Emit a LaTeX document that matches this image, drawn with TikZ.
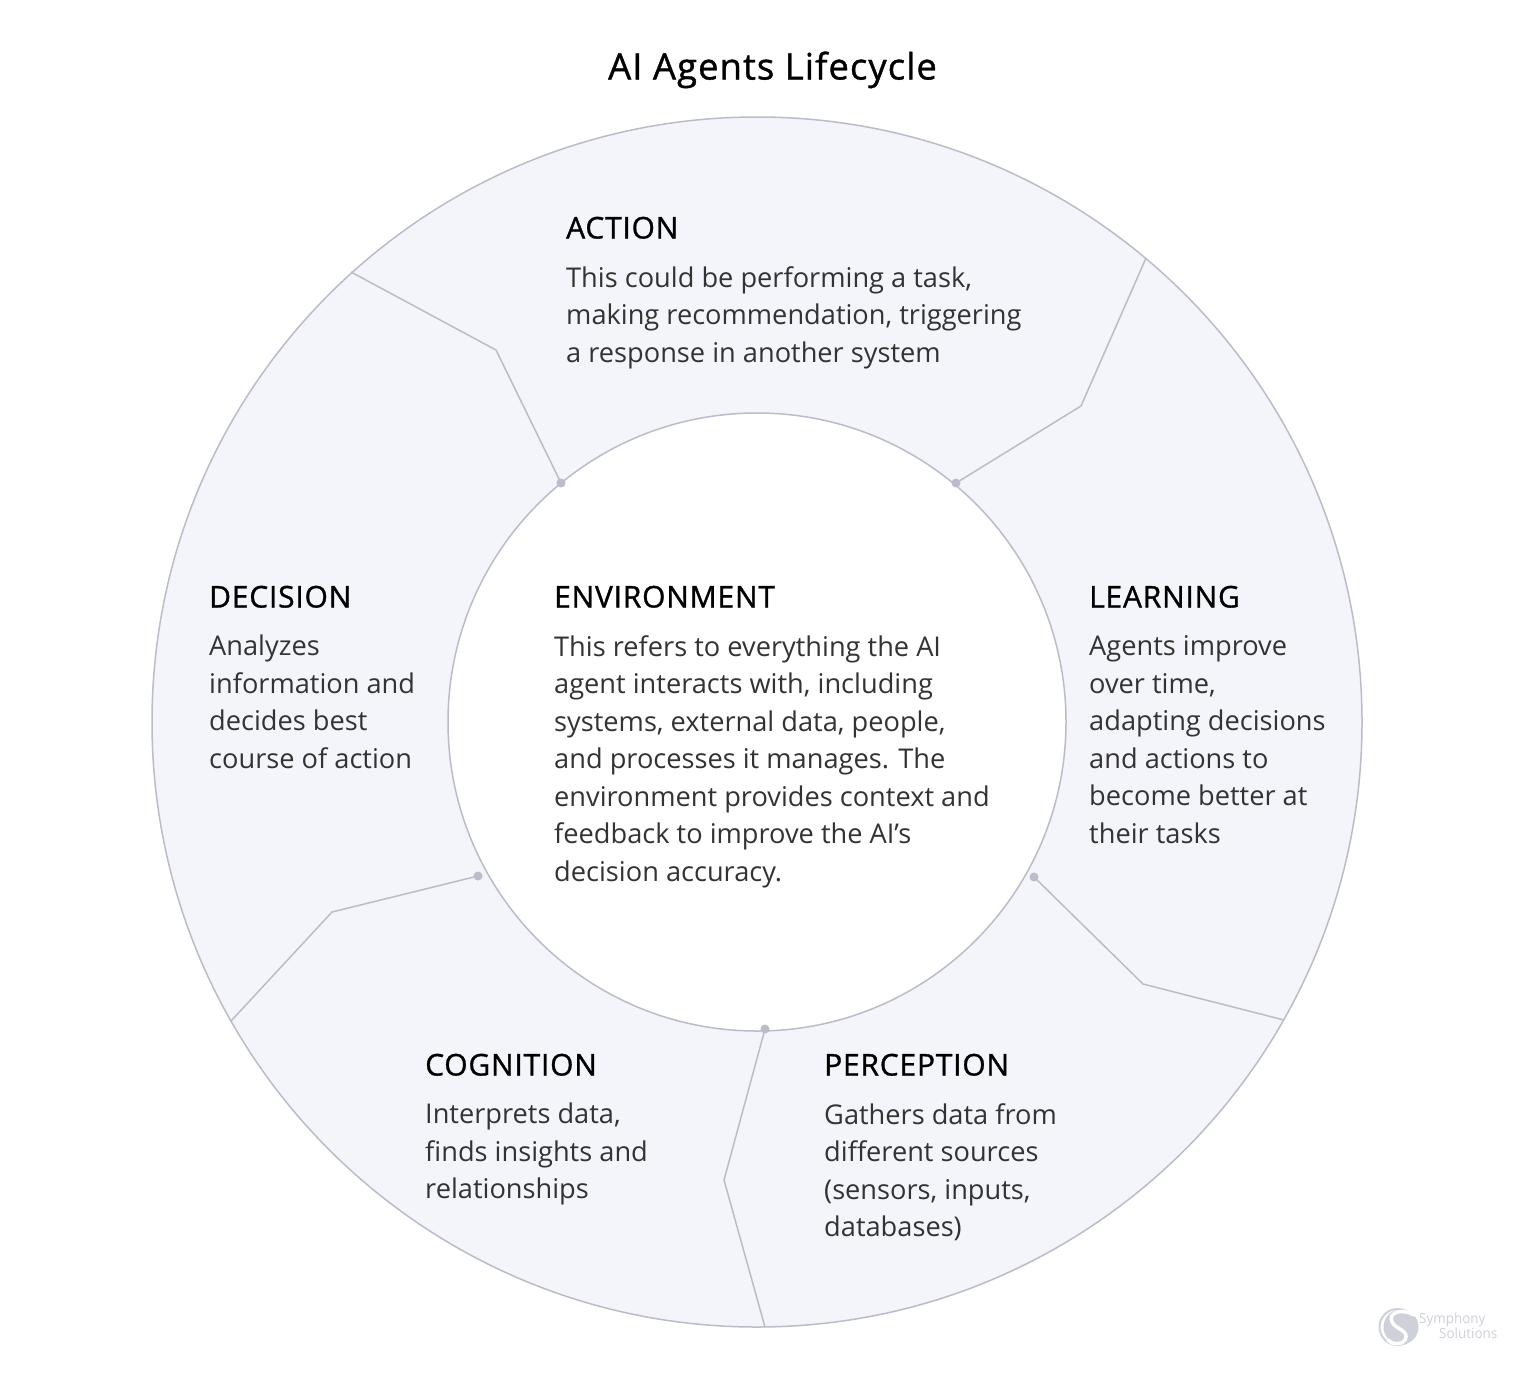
\documentclass[tikz,border=0pt]{standalone}
\usepackage{fontspec}
\setmainfont{Open Sans}
\newfontfamily\headfont{Open Sans}[FakeBold=1.0,LetterSpace=2.6]
\newfontfamily\titlefont{Open Sans}[FakeBold=1.0,LetterSpace=2.8]
\newfontfamily\logofont{Open Sans}
\definecolor{ringfill}{HTML}{F4F5FA}
\definecolor{ringline}{HTML}{BABCC9}
\definecolor{bodytext}{HTML}{333333}
\definecolor{logogray}{HTML}{CFD1DA}
\tikzset{
  x=1pt,y=-1pt,
  ringedge/.style={draw=ringline,line width=1.5pt},
  seam/.style={draw=ringline,line width=1.5pt,line join=miter},
  seamdot/.style={circle,fill=ringline,inner sep=0pt,minimum size=9pt},
  head/.style={anchor=base west,inner sep=0pt,font=\headfont\fontsize{30}{36}\selectfont,text=black},
  body/.style={anchor=north west,inner sep=0pt,align=left,font=\fontsize{27.2}{37.5}\selectfont,text=bodytext},
  logotext/.style={anchor=base west,inner sep=0pt,text=logogray,font=\logofont\fontsize{14}{14}\selectfont,xscale=0.96},
}
\begin{document}
\begin{tikzpicture}
\useasboundingbox (0,0) rectangle (1536,1373);
\fill[white] (0,0) rectangle (1536,1373);
\path[ringedge,fill=ringfill] (757,722) circle[radius=605];
\path[ringedge,fill=white] (757,722) circle[radius=309];

\node[anchor=base,inner sep=0pt,font=\titlefont\fontsize{36.5}{42}\selectfont,text=black] (title) at (772.5,79.5) {AI Agents Lifecycle};

% seams
\node[seamdot] (d1) at (561,483) {};
\node[seamdot] (d2) at (956,483) {};
\node[seamdot] (d3) at (1034,877) {};
\node[seamdot] (d4) at (765,1029) {};
\node[seamdot] (d5) at (478,876) {};
\coordinate (m1) at (496,350);
\coordinate (m2) at (1081,406);
\coordinate (m3) at (1143,984);
\coordinate (m4) at (724,1180);
\coordinate (m5) at (332,912);
\coordinate (e1) at (351,272);
\coordinate (e2) at (1146,258);
\coordinate (e3) at (1284,1020);
\coordinate (e4) at (765,1327);
\coordinate (e5) at (231,1021);
\draw[seam] (d1.center) -- (m1) -- (e1);
\draw[seam] (d2.center) -- (m2) -- (e2);
\draw[seam] (d3.center) -- (m3) -- (e3);
\draw[seam] (d4.center) -- (m4) -- (e4);
\draw[seam] (d5.center) -- (m5) -- (e5);

% text
\node[head] (h1) at (566,238.5) {ACTION};
\node[body] (b1) at (566,266) {This could be performing a task,\\making recommendation, triggering\\a response in another system};
\node[head] (h2) at (209,607.5) {DECISION};
\node[body] (b2) at (209,635) {Analyzes\\information and\\decides best\\course of action};
\node[head] (h3) at (554,607.5) {ENVIRONMENT};
\node[body] (b3) at (554,635) {This refers to everything the AI\\agent interacts with, including\\systems, external data, people,\\and processes it manages. The\\environment provides context and\\feedback to improve the AI’s\\decision accuracy.};
\node[head] (h4) at (1089,607.5) {LEARNING};
\node[body] (b4) at (1089,635.5) {Agents improve\\over time,\\adapting decisions\\and actions to\\become better at\\their tasks};
\node[head] (h5) at (425,1075.5) {COGNITION};
\node[body] (b5) at (425,1103) {Interprets data,\\finds insights and\\relationships};
\node[head] (h6) at (824,1075.5) {PERCEPTION};
\node[body] (b6) at (824,1103) {Gathers data from\\different sources\\(sensors, inputs,\\databases)};

% logo
\draw[logogray,line width=2pt] (1397.5,1327) circle[radius=18];
\fill[logogray] (1401,1327) circle[radius=17.5];
\draw[white,line width=3.5pt,line cap=round] (1414,1315) .. controls (1400,1307) and (1388,1314) .. (1392,1322) .. controls (1396,1330) and (1410,1330) .. (1405,1340) .. controls (1402,1345) and (1392,1345) .. (1388,1340);
\node[logotext] (logo1) at (1419,1323.5) {Symphony};
\node[logotext] (logo2) at (1439,1338) {Solutions};
\end{tikzpicture}
\end{document}
